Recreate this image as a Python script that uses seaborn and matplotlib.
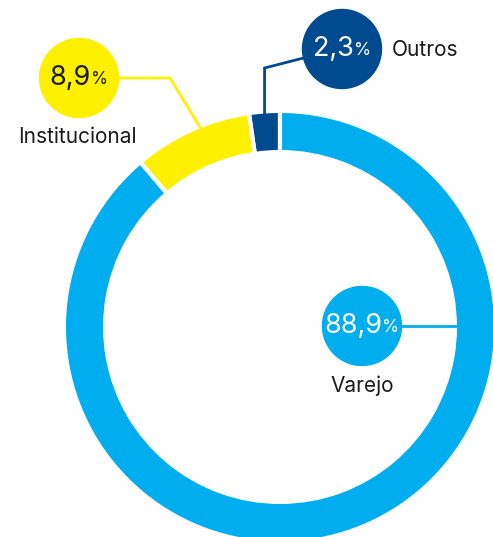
import numpy as np
import matplotlib
matplotlib.use("Agg")
import matplotlib.pyplot as plt
import seaborn as sns

# dados
categorias = ["Outros", "Institucional", "Varejo"]
valores = [2.3, 8.9, 88.9]
rotulos = ["2,3", "8,9", "88,9"]
cores = ["#004A8F", "#FFF000", "#00AEEF"]
cor_texto_valor = ["white", "#1a1a1a", "white"]

sns.set_theme(style="white")
plt.rcParams["font.family"] = ["Inter", "DejaVu Sans"]

W, H = 493, 537
fig = plt.figure(figsize=(W / 100, H / 100), dpi=100)
ax = fig.add_axes([0, 0, 1, 1])

# donut (coordenadas em pixels, y para cima)
cx, cy = 280, H - 327
R, largura = 214, 37
borda = 3  # pt
meia = borda * 100 / 72 / 2
wedges, _ = ax.pie(valores, colors=cores, startangle=90, counterclock=True,
                   center=(cx, cy), radius=R + meia,
                   wedgeprops=dict(width=largura + 2 * meia, edgecolor="white",
                                   linewidth=borda))

ax.set_xlim(0, W)
ax.set_ylim(0, H)
ax.set_aspect("equal")
ax.axis("off")


def ponto(ang, r):
    a = np.deg2rad(ang)
    return cx + r * np.cos(a), cy + r * np.sin(a)


# posicao das bolhas e rotulos
bolhas = {
    "Outros": dict(c=(342, H - 49), rotulo=(392, H - 50), ha="left"),
    "Institucional": dict(c=(79, H - 78), rotulo=(77, H - 137), ha="center"),
    "Varejo": dict(c=(362, H - 326), rotulo=(362, H - 386), ha="center"),
}
rb = 39.5

for i, (cat, w) in enumerate(zip(categorias, wedges)):
    b = bolhas[cat]
    bx, by = b["c"]
    meio = (w.theta1 + w.theta2) / 2
    if cat == "Outros":
        ax_, ay_ = ponto(meio, R)
        xs = [bx - rb + 1, ax_, ax_]
        ys = [by - 9, by - 19, ay_]
    elif cat == "Institucional":
        ax_, ay_ = ponto(meio - 2.5, R)
        xs = [bx + rb - 1, 170, ax_]
        ys = [by, by, ay_]
    else:
        ax_, ay_ = ponto(0, R - largura)
        xs = [bx + rb - 1, ax_]
        ys = [by, by]
    ax.plot(xs, ys, color=cores[i], lw=2, solid_joinstyle="miter", zorder=2)
    ax.add_patch(plt.Circle((bx, by), rb, color=cores[i], zorder=3))

    t1 = ax.text(bx, by, rotulos[i], fontsize=19.5, color=cor_texto_valor[i],
                 ha="right", va="center", zorder=4)
    t2 = ax.text(bx, by - 1.5, "%", fontsize=12.5, color=cor_texto_valor[i],
                 ha="left", va="center", zorder=4)
    b["t"] = (t1, t2)
    ax.text(b["rotulo"][0], b["rotulo"][1], cat, fontsize=15, color="#1a1a1a",
            ha=b["ha"], va="center", zorder=4)

# centraliza numero + % dentro da bolha
fig.canvas.draw()
rend = fig.canvas.get_renderer()
for cat in categorias:
    t1, t2 = bolhas[cat]["t"]
    w1 = t1.get_window_extent(rend).width
    w2 = t2.get_window_extent(rend).width
    bx, by = bolhas[cat]["c"]
    corte = bx - (w1 + w2) / 2 + w1
    t1.set_x(corte)
    t2.set_x(corte)

fig.savefig("out.png", dpi=100)
